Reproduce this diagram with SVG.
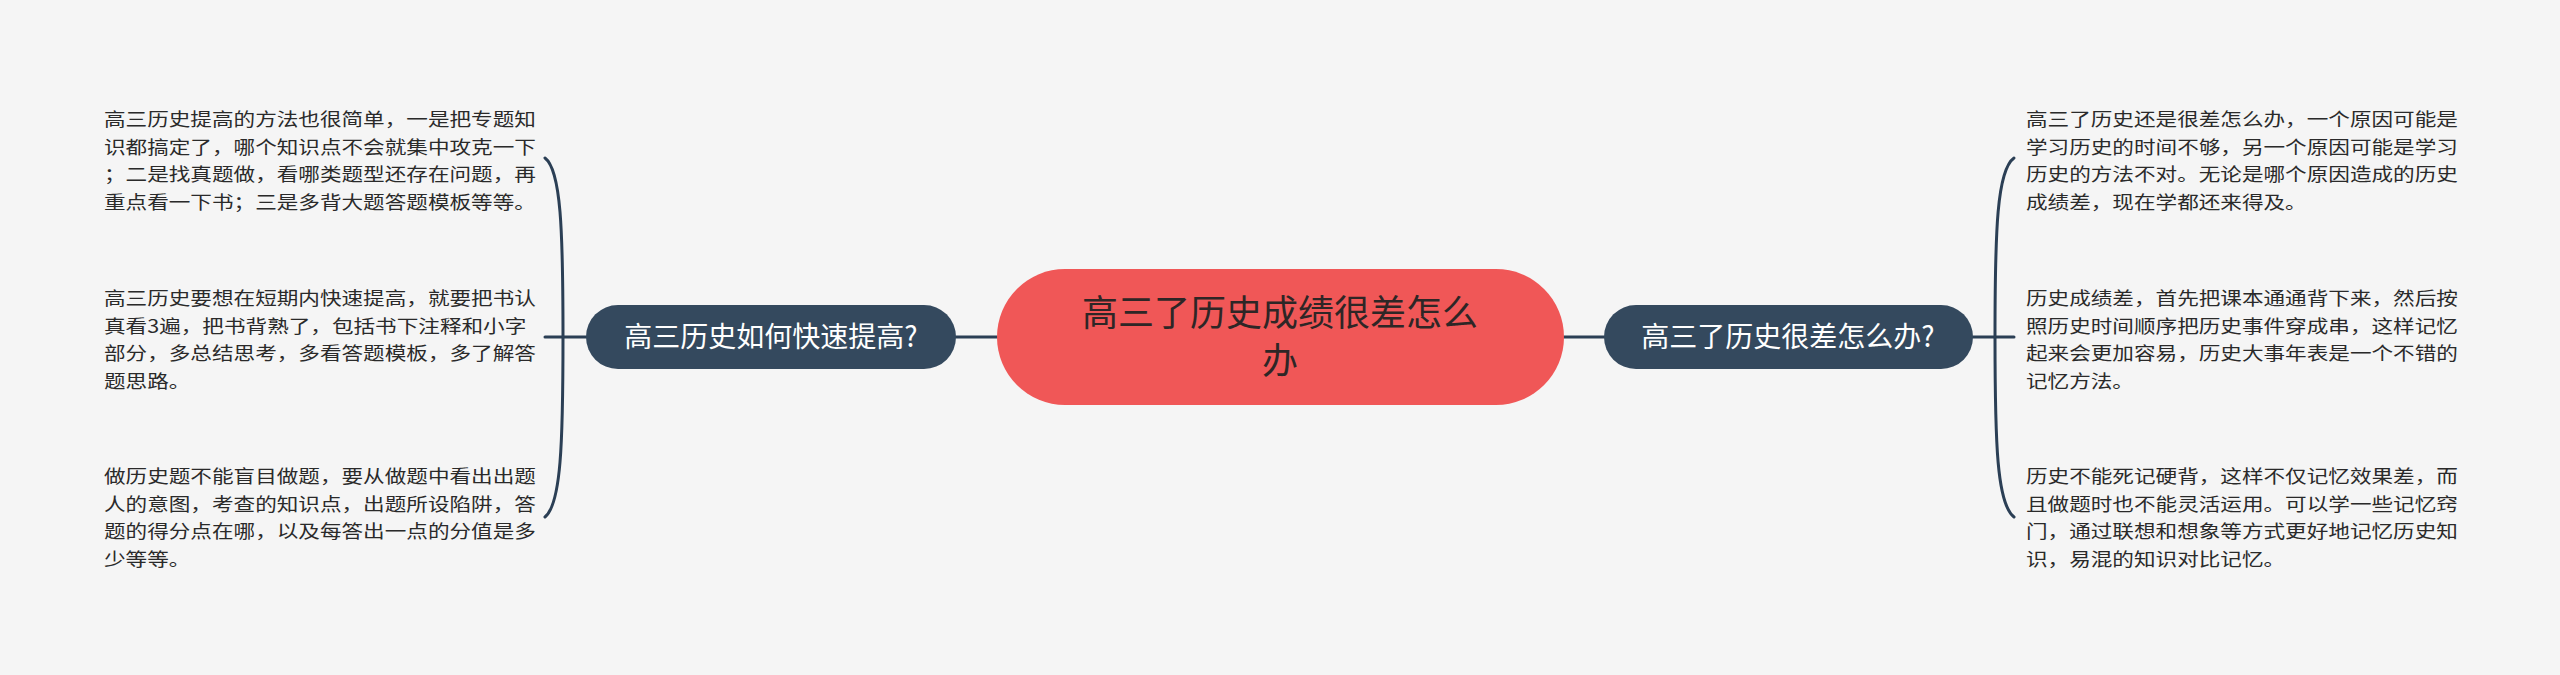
<svg xmlns="http://www.w3.org/2000/svg" width="2560" height="675" viewBox="0 0 2560 675">
<style>
.bg{fill:#f5f5f5}
.root{fill:#f05757}
.branch{fill:#34495e}
.conn{fill:none;stroke:#2b3f55;stroke-width:3;stroke-linecap:round}
.rt{font-family:"Noto Sans CJK SC","Noto Sans",sans-serif;font-size:36px;fill:#2e2626;text-anchor:middle}
.bt{font-family:"Noto Sans CJK SC","Noto Sans",sans-serif;font-size:28px;fill:#ffffff;text-anchor:middle}
.lt{font-family:"Noto Sans CJK SC","Noto Sans",sans-serif;font-size:18px;fill:#2a2a2a}
</style>
<rect class="bg" x="0" y="0" width="2560" height="675"/>
<g id="connectors">
<path class="conn" d="M956,337 L997,337"/>
<path class="conn" d="M1564,337 L1604,337"/>
<path class="conn" d="M586,337 L545,337"/>
<path class="conn" d="M563,337 C563,230 561,170 545,158"/>
<path class="conn" d="M563,337 C563,444 561,504 545,517"/>
<path class="conn" d="M1973,337 L2014,337"/>
<path class="conn" d="M1995,337 C1995,230 1997,170 2014,158"/>
<path class="conn" d="M1995,337 C1995,444 1997,504 2014,517"/>
</g>
<g id="root">
<rect class="root" x="997" y="269" width="567" height="136" rx="68"/>
<text class="rt" x="1280" y="326">高三了历史成绩很差怎么</text>
<text class="rt" x="1280" y="374">办</text>
</g>
<g id="branch-left">
<rect class="branch" x="586" y="305" width="370" height="64" rx="32"/>
<text class="bt" x="771" y="347">高三历史如何快速提高?</text>
</g>
<g id="branch-right">
<rect class="branch" x="1604" y="305" width="369" height="64" rx="32"/>
<text class="bt" x="1788" y="347">高三了历史很差怎么办?</text>
</g>
<g id="left-1">
<text class="lt" transform="translate(104,126) scale(1.2,1)"><tspan x="0" y="0">高三历史提高的方法也很简单，一是把专题知</tspan><tspan x="0" y="27.7">识都搞定了，哪个知识点不会就集中攻克一下</tspan><tspan x="0" y="55.4">；二是找真题做，看哪类题型还存在问题，再</tspan><tspan x="0" y="83.1">重点看一下书；三是多背大题答题模板等等。</tspan></text>
</g>
<g id="left-2">
<text class="lt" transform="translate(104,305) scale(1.2,1)"><tspan x="0" y="0">高三历史要想在短期内快速提高，就要把书认</tspan><tspan x="0" y="27.7">真看3遍，把书背熟了，包括书下注释和小字</tspan><tspan x="0" y="55.4">部分，多总结思考，多看答题模板，多了解答</tspan><tspan x="0" y="83.1">题思路。</tspan></text>
</g>
<g id="left-3">
<text class="lt" transform="translate(104,483) scale(1.2,1)"><tspan x="0" y="0">做历史题不能盲目做题，要从做题中看出出题</tspan><tspan x="0" y="27.7">人的意图，考查的知识点，出题所设陷阱，答</tspan><tspan x="0" y="55.4">题的得分点在哪，以及每答出一点的分值是多</tspan><tspan x="0" y="83.1">少等等。</tspan></text>
</g>
<g id="right-1">
<text class="lt" transform="translate(2026,126) scale(1.2,1)"><tspan x="0" y="0">高三了历史还是很差怎么办，一个原因可能是</tspan><tspan x="0" y="27.7">学习历史的时间不够，另一个原因可能是学习</tspan><tspan x="0" y="55.4">历史的方法不对。无论是哪个原因造成的历史</tspan><tspan x="0" y="83.1">成绩差，现在学都还来得及。</tspan></text>
</g>
<g id="right-2">
<text class="lt" transform="translate(2026,305) scale(1.2,1)"><tspan x="0" y="0">历史成绩差，首先把课本通通背下来，然后按</tspan><tspan x="0" y="27.7">照历史时间顺序把历史事件穿成串，这样记忆</tspan><tspan x="0" y="55.4">起来会更加容易，历史大事年表是一个不错的</tspan><tspan x="0" y="83.1">记忆方法。</tspan></text>
</g>
<g id="right-3">
<text class="lt" transform="translate(2026,483) scale(1.2,1)"><tspan x="0" y="0">历史不能死记硬背，这样不仅记忆效果差，而</tspan><tspan x="0" y="27.7">且做题时也不能灵活运用。可以学一些记忆窍</tspan><tspan x="0" y="55.4">门，通过联想和想象等方式更好地记忆历史知</tspan><tspan x="0" y="83.1">识，易混的知识对比记忆。</tspan></text>
</g>
</svg>
